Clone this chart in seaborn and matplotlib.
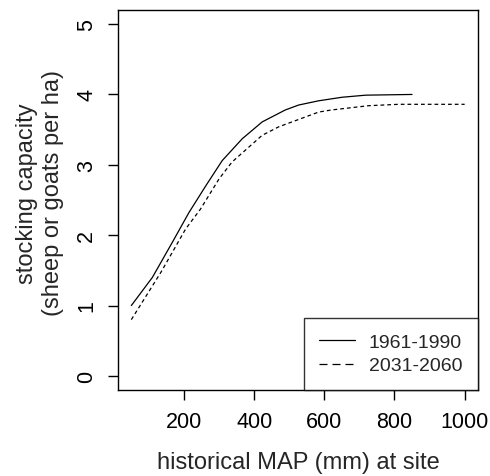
import matplotlib
matplotlib.use("Agg")
import matplotlib.pyplot as plt
from matplotlib.lines import Line2D
import seaborn as sns
import pandas as pd

# data
map_1961 = [50, 110, 167, 214, 262, 309, 366, 423, 489, 527, 584, 650, 718, 850]
cap_1961 = [1.0, 1.40, 1.90, 2.32, 2.70, 3.06, 3.37, 3.61, 3.78, 3.85, 3.91, 3.96, 3.99, 4.0]
map_2031 = [50, 134, 205, 247, 300, 337, 423, 470, 584, 621, 726, 812, 1000]
cap_2031 = [0.80, 1.47, 2.09, 2.37, 2.80, 3.04, 3.42, 3.54, 3.75, 3.78, 3.84, 3.86, 3.86]
series_labels = ["1961-1990", "2031-2060"]
x_ticks = [200, 400, 600, 800, 1000]
y_ticks = [0, 1, 2, 3, 4, 5]

df = pd.concat([
    pd.DataFrame({"map": map_1961, "cap": cap_1961, "period": series_labels[0]}),
    pd.DataFrame({"map": map_2031, "cap": cap_2031, "period": series_labels[1]}),
])

sns.set_style("ticks")
plt.rcParams["font.family"] = ["Liberation Sans", "DejaVu Sans"]

fig = plt.figure(figsize=(4.9, 4.77), dpi=100)
ax = fig.add_axes([0.2408, 0.1803, 0.9755 - 0.2408, 0.9769 - 0.1803])

sns.lineplot(data=df, x="map", y="cap", hue="period", style="period",
             palette={series_labels[0]: "black", series_labels[1]: "black"},
             dashes={series_labels[0]: "", series_labels[1]: (3.0, 2.4)},
             linewidth=0.9, legend=False, ax=ax, sort=False)

ax.set_xlim(12, 1038)
ax.set_ylim(-0.2, 5.2)
ax.set_xticks(x_ticks)
ax.set_yticks(y_ticks)
ax.set_xticklabels([str(v) for v in x_ticks], fontsize=15.5)
ax.set_yticklabels([str(v) for v in y_ticks], fontsize=15.5, rotation=90, va="center")
ax.tick_params(axis="both", direction="out", length=7, width=1, colors="black", pad=8)

for s in ax.spines.values():
    s.set_visible(True)
    s.set_color("black")
    s.set_linewidth(1.0)

ax.set_xlabel("historical MAP (mm) at site", fontsize=17, labelpad=14)
ax.set_ylabel("stocking capacity\n(sheep or goats per ha)", fontsize=17, labelpad=9,
              linespacing=1.2)
ax.yaxis.label.set_y(0.52)

handles = [Line2D([], [], color="black", lw=0.9, ls="-"),
           Line2D([], [], color="black", lw=0.9, ls=(0, (6.4, 4.0)))]
leg = ax.legend(handles, series_labels, loc="lower right", fontsize=14,
                frameon=True, fancybox=False, borderaxespad=0, handlelength=1.85,
                borderpad=0.8, labelspacing=0.3, handletextpad=0.7)
leg.get_frame().set_edgecolor("black")
leg.get_frame().set_linewidth(1.0)

fig.savefig("out.png", dpi=100, facecolor="white")
